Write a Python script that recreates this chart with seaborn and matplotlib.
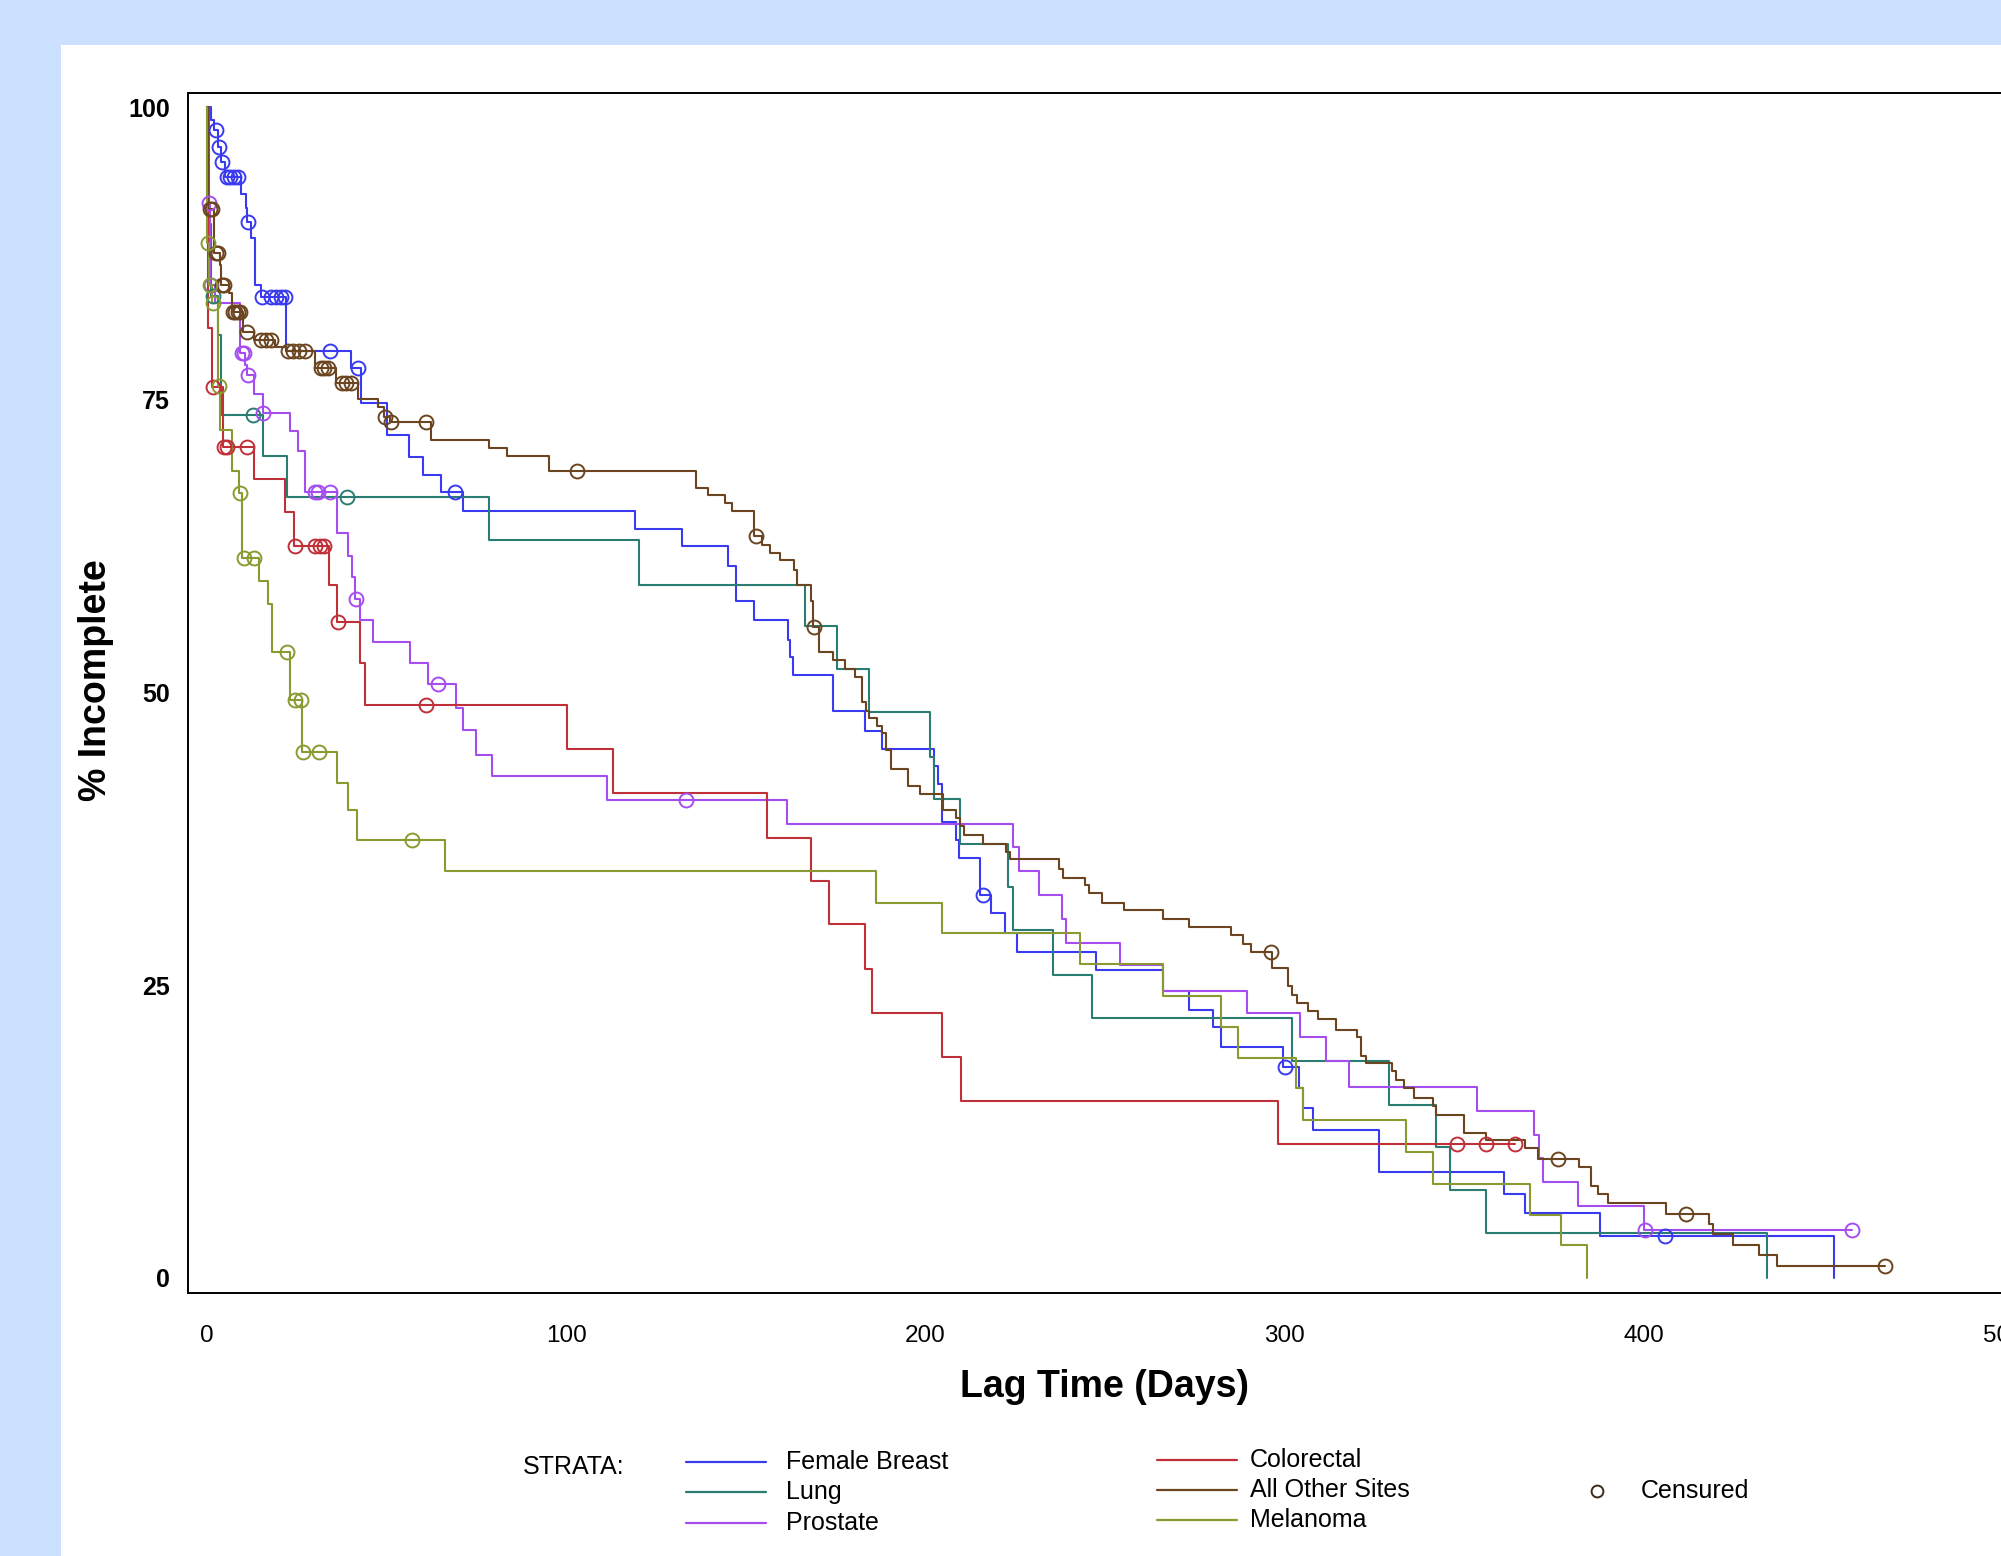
import numpy as np
import pandas as pd
import matplotlib
matplotlib.use("Agg")
import matplotlib.pyplot as plt
from matplotlib.lines import Line2D
from matplotlib.patches import Rectangle
import seaborn as sns

# --- data (days, % incomplete after each drop, censor days) ---
breast_t = [1.0, 2.0, 3.0, 3.8, 5.0, 9.4, 10.8, 11.2, 12.2, 13.3, 15.0, 22.1, 40.2, 43.0, 50.0,
            56.3, 60.1, 65.2, 71.3, 119.2, 132.3, 145.0, 147.2, 152.3, 161.6, 162.3, 163.2, 174.2,
            183.2, 188.0, 202.5, 203.6, 204.6, 208.4, 209.4, 215.1, 218.2, 222.1, 225.4, 247.5,
            266.0, 273.4, 280.0, 282.2, 299.5, 304.0, 305.0, 308.0, 326.3, 361.1, 367.0, 387.9, 453.0]
breast_s = [98.9, 98.0, 96.6, 95.3, 94.0, 92.6, 91.4, 90.2, 88.8, 84.8, 83.8, 79.2, 77.7, 74.7, 72.0,
            70.1, 68.6, 67.1, 65.5, 64.0, 62.5, 60.8, 57.8, 56.2, 54.5, 53.0, 51.5, 48.4,
            46.7, 45.2, 43.7, 42.2, 38.9, 37.4, 35.9, 32.7, 31.2, 29.5, 27.8, 26.3,
            24.5, 22.9, 21.4, 19.7, 18.0, 16.2, 14.5, 12.6, 9.05, 7.2, 5.55, 3.6, 0.0]
breast_c = [2.5, 3.4, 4.2, 5.6, 6.5, 7.5, 8.5, 11.3, 15.4, 17.9, 19.3, 20.7, 21.6, 34.2, 42.0,
            69.0, 216.0, 300.0, 406.0]

lung_t = [0.5, 1.2, 3.2, 4.0, 15.5, 22.2, 78.4, 120.3, 166.5, 175.3, 184.2, 201.3, 202.3, 209.5,
          223.0, 224.4, 235.4, 246.4, 302.1, 329.1, 342.2, 346.0, 356.1, 434.4]
lung_s = [90.0, 83.9, 80.5, 73.7, 70.2, 66.7, 63.0, 59.2, 55.7, 52.0, 48.3, 44.5, 40.9, 37.1,
          33.4, 29.7, 25.9, 22.2, 18.5, 14.8, 11.2, 7.5, 3.8, 0.0]
lung_c = [1.6, 12.8, 39.1]

prostate_t = [0.3, 0.8, 2.2, 9.3, 10.6, 11.2, 13.1, 15.5, 23.2, 25.3, 27.2, 36.3, 39.3, 40.4, 41.3,
              42.5, 46.2, 56.4, 61.4, 69.3, 71.3, 75.0, 79.3, 111.4, 161.5, 224.3, 226.0, 231.5,
              238.1, 239.2, 254.2, 266.1, 289.4, 304.3, 311.4, 318.0, 353.4, 369.3, 370.8, 372.0,
              381.6, 400.1]
prostate_s = [91.8, 84.8, 83.3, 79.0, 78.0, 77.1, 75.5, 73.9, 72.3, 70.6, 67.1, 63.6, 61.7, 59.9, 58.0,
              56.2, 54.3, 52.5, 50.7, 48.65, 46.8, 44.7, 42.9, 40.8, 38.8, 36.8, 34.75, 32.75,
              30.7, 28.6, 26.7, 24.55, 22.6, 20.55, 18.5, 16.3, 14.3, 12.25, 10.25, 8.2,
              6.15, 4.1]
prostate_c = [0.5, 1.0, 9.7, 10.2, 11.4, 15.7, 30.0, 31.0, 34.2, 41.5, 64.3, 133.3, 400.4, 458.0]

colorectal_t = [0.3, 1.3, 4.4, 13.2, 21.8, 24.3, 34.0, 36.3, 42.7, 44.1, 100.3, 113.0, 155.9, 168.1,
                173.1, 183.1, 185.2, 204.5, 210.0, 298.2]
colorectal_s = [81.1, 76.1, 71.0, 68.2, 65.4, 62.5, 59.2, 56.0, 52.5, 48.9, 45.2, 41.4, 37.6, 33.9,
                30.2, 26.4, 22.6, 18.85, 15.1, 11.4]
colorectal_c = [1.8, 4.6, 5.6, 11.1, 24.5, 30.0, 31.5, 32.6, 36.5, 61.0, 348.0, 356.1, 364.0]

other_t = [0.3, 2.0, 3.5, 4.0, 6.0, 7.0, 10.0, 13.0, 19.0, 22.0, 30.0, 36.0, 42.0, 47.6, 49.3,
           51.0, 62.3, 78.4, 83.4, 95.3, 136.2, 139.5, 144.3, 146.2, 152.2, 154.6, 156.6, 159.4,
           163.4, 164.3, 168.0, 168.7, 170.3, 174.3, 177.6, 180.3, 182.4, 183.4, 184.2, 186.5,
           188.0, 189.0, 190.4, 195.2, 198.5, 205.0, 208.5, 209.7, 210.8, 216.0, 222.5, 223.4,
           237.1, 238.2, 244.4, 245.5, 249.1, 255.2, 266.2, 273.5, 285.0, 288.3, 290.6, 296.6,
           301.0, 302.0, 303.3, 306.5, 309.3, 314.2, 320.2, 321.3, 322.5, 330.0, 331.0, 333.3,
           336.1, 341.2, 342.2, 350.0, 356.0, 367.0, 370.5, 382.0, 385.3, 387.2, 390.0, 406.2,
           418.0, 419.2, 424.8, 432.0, 437.0]
other_s = [91.3, 87.5, 86.5, 84.8, 84.1, 82.5, 80.8, 80.1, 79.5, 79.2, 77.7, 76.4, 75.1, 74.4, 73.5,
           73.1, 71.6, 70.9, 70.2, 68.9, 67.5, 66.9, 66.2, 65.5, 63.4, 62.6, 61.9, 61.3,
           60.5, 59.2, 57.8, 55.6, 53.5, 52.8, 52.0, 51.3, 49.2, 48.4, 47.8, 47.1,
           46.5, 45.1, 43.5, 42.0, 41.3, 40.0, 39.3, 38.6, 37.8, 37.1, 36.4, 35.8,
           34.9, 34.2, 33.6, 32.9, 32.0, 31.4, 30.7, 30.0, 29.3, 28.5, 27.8, 26.5,
           24.9, 24.2, 23.5, 22.8, 22.1, 21.2, 20.6, 19.0, 18.4, 17.7, 16.9, 16.2,
           15.4, 14.7, 13.9, 12.4, 11.8, 11.1, 10.2, 9.5, 7.85, 7.2, 6.4, 5.5,
           4.65, 3.75, 2.8, 2.0, 1.0]
other_c = [0.8, 1.3, 2.4, 3.2, 4.3, 4.8, 7.2, 7.8, 8.6, 9.2, 11.0, 15.0, 16.5, 17.8, 22.5, 24.0,
           25.5, 27.2, 31.8, 32.6, 33.7, 37.5, 38.6, 40.0, 49.5, 51.2, 61.0, 102.9, 152.8, 169.0,
           296.2, 376.0, 411.7, 467.0]

melanoma_t = [0.1, 0.6, 1.5, 3.0, 3.7, 7.0, 9.0, 9.8, 14.5, 17.1, 18.2, 23.2, 26.5, 36.3, 39.2,
              41.7, 66.2, 186.3, 204.5, 242.9, 266.2, 282.2, 287.1, 303.2, 305.1, 333.9, 341.2,
              368.3, 377.0, 384.2]
melanoma_s = [88.4, 84.8, 83.3, 76.2, 72.4, 68.9, 67.0, 61.5, 59.5, 57.6, 53.5, 49.4, 44.9, 42.3, 40.0,
              37.4, 34.75, 32.05, 29.5, 26.8, 24.1, 21.4, 18.75, 16.2, 13.5, 10.8, 8.0,
              5.35, 2.8, 0.0]
melanoma_c = [0.2, 0.8, 1.7, 3.3, 9.3, 10.2, 13.1, 22.2, 24.4, 26.1, 26.8, 31.3, 57.1]

strata = ["Female Breast", "Lung", "Prostate", "Colorectal", "All Other Sites", "Melanoma"]
series = {
    "Female Breast": (breast_t, breast_s, breast_c),
    "Lung": (lung_t, lung_s, lung_c),
    "Prostate": (prostate_t, prostate_s, prostate_c),
    "Colorectal": (colorectal_t, colorectal_s, colorectal_c),
    "All Other Sites": (other_t, other_s, other_c),
    "Melanoma": (melanoma_t, melanoma_s, melanoma_c),
}
colors = {
    "Female Breast": "#3A3AF0",
    "Lung": "#2A7D70",
    "Prostate": "#A64DF0",
    "Colorectal": "#C03038",
    "All Other Sites": "#6A4520",
    "Melanoma": "#8A9A30",
}

# build step curves and censor points
curve_rows, cens_rows = [], []
for name in strata:
    t, s, c = series[name]
    x = np.array([0.0] + list(t))
    y = np.array([100.0] + list(s))
    if max(c) > x[-1]:
        x = np.append(x, max(c))
        y = np.append(y, y[-1])
    curve_rows.append(pd.DataFrame({"days": x, "pct": y, "strata": name}))
    idx = np.searchsorted(x, c, side="right") - 1
    cens_rows.append(pd.DataFrame({"days": c, "pct": y[idx], "strata": name}))
curves = pd.concat(curve_rows, ignore_index=True)
censors = pd.concat(cens_rows, ignore_index=True)

sns.set_style("white")
plt.rcParams["font.family"] = ["Liberation Sans", "DejaVu Sans"]
plt.rcParams["text.color"] = "black"
plt.rcParams["xtick.color"] = "black"
plt.rcParams["ytick.color"] = "black"

W, H = 2001, 1556
fig = plt.figure(figsize=(W / 100, H / 100), dpi=100, facecolor="#CCE0FF")
fig.patches.append(Rectangle((61 / W, 0), 1, 1 - 45 / H, transform=fig.transFigure,
                             facecolor="white", edgecolor="none", zorder=-10))

ax = fig.add_axes([188 / W, 1 - 1292.5 / H, 1887 / W, 1199.5 / H])
ax.set_zorder(5)
ax.set_facecolor("white")

sns.lineplot(data=curves, x="days", y="pct", hue="strata", palette=colors, estimator=None,
             sort=False, drawstyle="steps-post", linewidth=1.5, legend=False, ax=ax)
for name in strata:
    d = censors[censors["strata"] == name]
    ax.plot(d["days"], d["pct"], ls="none", marker="o", ms=10, mfc="none",
            mec=colors[name], mew=1.4)

ax.set_xlim(-5.29, 520)
ax.set_ylim(-1.24, 101.2)
ax.set_xticks([0, 100, 200, 300, 400, 500])
ax.set_yticks([0, 25, 50, 75, 100])
ax.set_xlabel("")
ax.set_ylabel("")
for sp in ax.spines.values():
    sp.set_color("black")
    sp.set_linewidth(1.4)
ax.tick_params(axis="both", direction="out", length=6.5, width=1.3, color="black",
               labelcolor="black")
ax.tick_params(axis="x", labelsize=17.5, pad=17)
ax.tick_params(axis="y", labelsize=18, pad=6.5)
for lab in ax.get_yticklabels():
    lab.set_fontweight("bold")

fig.text(96 / W, 1 - 680 / H, "% Incomplete", rotation=90, ha="center", va="center",
         fontsize=27, fontweight="bold")
fig.text(1104 / W, 1 - 1387 / H, "Lag Time (Days)", ha="center", va="center",
         fontsize=27, fontweight="bold")

# legend block
fig.text(523 / W, 1 - 1467 / H, "STRATA:", ha="left", va="center", fontsize=18)
col1 = [("Female Breast", 1462), ("Lung", 1492), ("Prostate", 1523)]
col2 = [("Colorectal", 1460), ("All Other Sites", 1490), ("Melanoma", 1520)]
for items, x0, x1, xt in [(col1, 686, 766, 786), (col2, 1157, 1237, 1250)]:
    for name, yy in items:
        fig.add_artist(Line2D([x0 / W, x1 / W], [1 - yy / H, 1 - yy / H],
                              color=colors[name], lw=1.6, transform=fig.transFigure))
        fig.text(xt / W, 1 - yy / H, name, ha="left", va="center", fontsize=18)
fig.add_artist(Line2D([1597 / W], [1 - 1491 / H], ls="none", marker="o", ms=8.5, mfc="none",
                      mec="#3a2a1a", mew=1.4, transform=fig.transFigure))
fig.text(1641 / W, 1 - 1491 / H, "Censured", ha="left", va="center", fontsize=18)

fig.savefig("out.png", dpi=100, facecolor=fig.get_facecolor())
